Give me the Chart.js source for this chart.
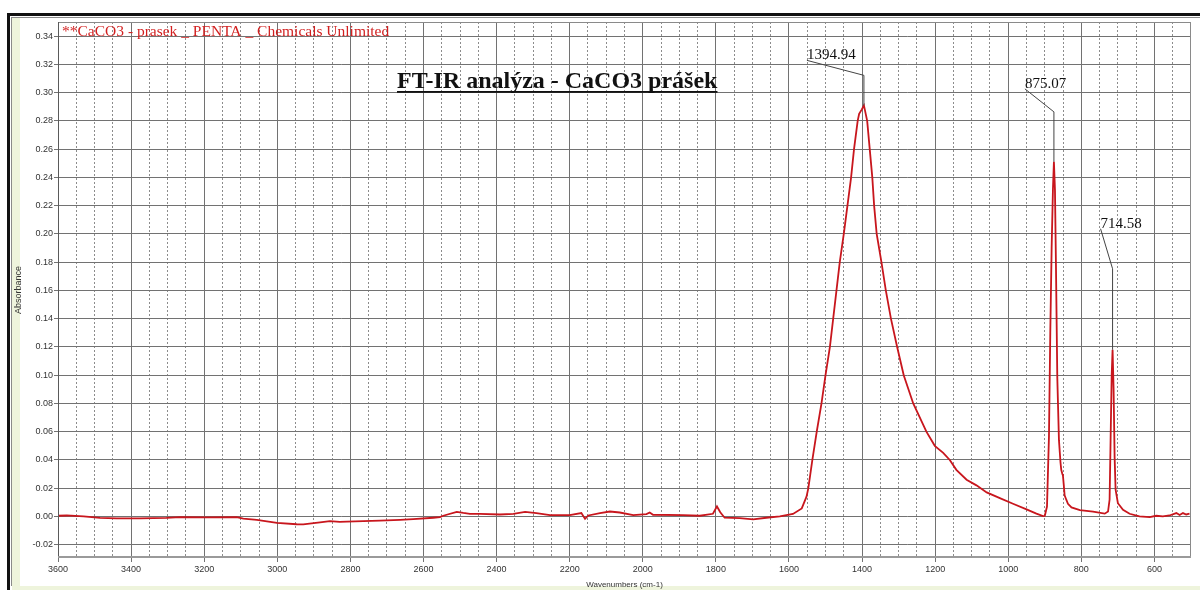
<!DOCTYPE html>
<html>
<head>
<meta charset="utf-8">
<title>FT-IR analýza - CaCO3 prášek</title>
<script src="https://cdn.jsdelivr.net/npm/chart.js@4.4.1/dist/chart.umd.min.js"></script>
<style>
  html, body { margin: 0; padding: 0; background: #fff; }
  #wrap { position: relative; width: 1200px; height: 590px; overflow: hidden; }
  #frame { position: absolute; left: 7px; top: 13px; width: 1210px; height: 600px;
           border-top: 3px solid #111; border-left: 3px solid #111; box-sizing: border-box; }
  #panel { position: absolute; left: 11px; top: 17px; width: 1200px; height: 569px;
           border-left: 1px solid #8a8a8a; border-top: 1px solid #8a8a8a; box-sizing: border-box;
           background: #fff; box-shadow: inset 8px 0 0 #eef4dc; }
  #panelBottom { position: absolute; left: 12px; top: 586px; width: 1200px; height: 6px; background: #eef4dc; }
  #chartBox { position: absolute; left: 0; top: 0; width: 1200px; height: 590px; }
</style>
</head>
<body>
<div id="wrap">
  <div id="frame"></div>
  <div id="panel"></div>
  <div id="panelBottom"></div>
  <div id="chartBox"><canvas id="spectrum"></canvas></div>
</div>
<script>
// Spectrum: wavenumber (cm-1) and absorbance pairs, high to low wavenumber
const wavenumbers = [
  3600, 3576, 3530, 3485, 3440, 3376, 3303, 3266, 3193, 3111,
  3093, 3056, 3001, 2947, 2929, 2883, 2856, 2829, 2810, 2719,
  2664, 2628, 2573, 2555, 2546, 2509, 2491, 2473, 2446, 2391,
  2354, 2322, 2291, 2254, 2200, 2168, 2158, 2149, 2117, 2090,
  2063, 2026, 1990, 1981, 1972, 1890, 1844, 1808, 1797, 1788,
  1776, 1735, 1698, 1662, 1625, 1589, 1565, 1552, 1547, 1536,
  1524, 1511, 1500, 1488, 1479, 1470, 1461, 1450, 1440, 1430,
  1422, 1412, 1408, 1401, 1394.94, 1386, 1379, 1372, 1367, 1360,
  1347, 1335, 1321, 1304, 1286, 1260, 1224, 1201, 1178, 1160,
  1142, 1114, 1087, 1059, 1023, 987, 950, 923, 905, 900,
  894, 888.6, 885, 881.3, 877.7, 875.07, 872.2, 869.5, 865.8, 861.3,
  857, 855, 852, 850.4, 848, 845.8, 840.7, 836.7, 827, 804,
  768, 736, 727, 722.7, 720, 717, 714.58, 711.8, 709, 706.3,
  700, 686, 668, 641, 613, 595, 577, 559, 540, 531,
  522, 513, 504
];
const absorbance = [
  0.0005, 0.0007, 0.0000, -0.0010, -0.0014, -0.0014, -0.0010, -0.0005, -0.0007, -0.0005,
  -0.0015, -0.0024, -0.0045, -0.0055, -0.0056, -0.0042, -0.0033, -0.0038, -0.0036, -0.0029,
  -0.0024, -0.0019, -0.0009, -0.0005, 0.0005, 0.0033, 0.0025, 0.0019, 0.0018, 0.0014,
  0.0019, 0.0033, 0.0024, 0.0009, 0.0009, 0.0024, -0.0017, 0.0007, 0.0024, 0.0035,
  0.0028, 0.0009, 0.0017, 0.0028, 0.0012, 0.0009, 0.0005, 0.0019, 0.0071, 0.0030,
  -0.0009, -0.0012, -0.0021, -0.0009, 0.0000, 0.0018, 0.0057, 0.0140, 0.020, 0.040,
  0.060, 0.080, 0.100, 0.120, 0.140, 0.160, 0.180, 0.200, 0.220, 0.240,
  0.260, 0.280, 0.285, 0.288, 0.291, 0.280, 0.260, 0.240, 0.220, 0.200,
  0.180, 0.160, 0.140, 0.120, 0.100, 0.080, 0.060, 0.050, 0.045, 0.040,
  0.033, 0.026, 0.022, 0.017, 0.013, 0.009, 0.005, 0.002, 0.0002, 0.0005,
  0.007, 0.057, 0.130, 0.190, 0.232, 0.251, 0.231, 0.178, 0.098, 0.054,
  0.038, 0.033, 0.030, 0.029, 0.022, 0.015, 0.0115, 0.009, 0.0064, 0.0045,
  0.0035, 0.0020, 0.0035, 0.012, 0.054, 0.100, 0.118, 0.090, 0.042, 0.019,
  0.0094, 0.0047, 0.0019, 0.0000, -0.0005, 0.0005, 0.0000, 0.0007, 0.0024, 0.0010,
  0.0024, 0.0014, 0.0020
];

// Labelled peaks
const peakWavenumbers = [1394.94, 875.07, 714.58];
const peakAbsorbance = [0.291, 0.251, 0.118];
const peakLabels = ['1394.94', '875.07', '714.58'];

// Axis ticks
const xMajorTicks = [3600, 3400, 3200, 3000, 2800, 2600, 2400, 2200, 2000, 1800, 1600, 1400, 1200, 1000, 800, 600];
const xMinorTicks = [
  3550, 3500, 3450, 3350, 3300, 3250, 3150, 3100, 3050, 2950, 2900, 2850,
  2750, 2700, 2650, 2550, 2500, 2450, 2350, 2300, 2250, 2150, 2100, 2050,
  1950, 1900, 1850, 1750, 1700, 1650, 1550, 1500, 1450, 1350, 1300, 1250,
  1150, 1100, 1050, 950, 900, 850, 750, 700, 650, 550
];
const yTicks = [-0.02, 0.00, 0.02, 0.04, 0.06, 0.08, 0.10, 0.12, 0.14, 0.16, 0.18,
                0.20, 0.22, 0.24, 0.26, 0.28, 0.30, 0.32, 0.34];

const seriesName = '**CaCO3 - prasek _ PENTA _ Chemicals Unlimited';
const chartTitle = 'FT-IR analýza - CaCO3 prášek';
const xTitle = 'Wavenumbers (cm-1)';
const yTitle = 'Absorbance';

const X_MIN = 500, X_MAX = 3600, Y_MIN = -0.0294, Y_MAX = 0.350;

// Leader-line geometry for each peak label (pixels relative to the peak point)
const peakLabelLayout = [
  { elbowDy: -30, textDx: -57, textDy: -45 },
  { elbowDy: -50, textDx: -29, textDy: -73 },
  { elbowDy: -81, textDx: -12, textDy: -121 }
];

const tickFont = { family: '"Liberation Sans", Arial, sans-serif', size: 9 };

const plotDecor = {
  id: 'plotDecor',
  beforeDraw(chart) {
    const { ctx, chartArea: a } = chart;
    ctx.save();
    ctx.fillStyle = '#ffffff';
    ctx.fillRect(a.left, a.top, a.right - a.left, a.bottom - a.top);
    ctx.restore();
  },
  afterDatasetsDraw(chart) {
    const { ctx, chartArea: a, scales } = chart;
    ctx.save();
    // plot frame
    ctx.strokeStyle = '#8a8a8a';
    ctx.lineWidth = 1;
    ctx.strokeRect(a.left + 0.5, a.top + 0.5, a.right - a.left - 1, a.bottom - a.top - 1);
    ctx.strokeStyle = '#5a5a5a';
    ctx.beginPath();
    ctx.moveTo(a.left + 0.5, a.top);
    ctx.lineTo(a.left + 0.5, a.bottom);
    ctx.stroke();
    ctx.lineWidth = 2;
    ctx.strokeStyle = '#9a9a9a';
    ctx.beginPath();
    ctx.moveTo(a.left, a.bottom - 1);
    ctx.lineTo(a.right, a.bottom - 1);
    ctx.stroke();

    // series name
    ctx.fillStyle = '#d21f1f';
    ctx.font = '15.5px "Liberation Serif", "Times New Roman", serif';
    ctx.textBaseline = 'alphabetic';
    ctx.textAlign = 'left';
    ctx.fillText(seriesName, a.left + 4, a.top + 14);

    // chart title, bold and underlined
    ctx.fillStyle = '#111111';
    ctx.font = 'bold 24px "Liberation Serif", "Times New Roman", serif';
    const tx = a.left + 339, ty = a.top + 66;
    ctx.fillText(chartTitle, tx, ty);
    const tw = ctx.measureText(chartTitle).width;
    ctx.fillRect(tx, ty + 3, tw, 1.8);

    // peak labels with leader lines
    ctx.font = '15px "Liberation Serif", "Times New Roman", serif';
    ctx.strokeStyle = '#444444';
    ctx.lineWidth = 1;
    peakWavenumbers.forEach((w, i) => {
      const px = scales.x.getPixelForValue(w);
      const py = scales.y.getPixelForValue(peakAbsorbance[i]);
      const l = peakLabelLayout[i];
      ctx.beginPath();
      ctx.moveTo(px, py);
      ctx.lineTo(px, py + l.elbowDy);
      ctx.lineTo(px + l.textDx, py + l.textDy);
      ctx.stroke();
      ctx.fillStyle = '#111111';
      ctx.fillText(peakLabels[i], px + l.textDx, py + l.textDy - 1);
    });
    ctx.restore();
  }
};

new Chart(document.getElementById('spectrum'), {
  type: 'line',
  data: {
    datasets: [{
      label: seriesName,
      data: wavenumbers.map((w, i) => ({ x: w, y: absorbance[i] })),
      borderColor: '#c8161d',
      borderWidth: 1.8,
      pointRadius: 0,
      tension: 0,
      fill: false
    }]
  },
  options: {
    responsive: true,
    maintainAspectRatio: false,
    animation: false,
    layout: { padding: { left: 12, top: 22, right: 9, bottom: 0 } },
    plugins: { legend: { display: false }, tooltip: { enabled: false }, title: { display: false } },
    scales: {
      x: {
        type: 'linear', position: 'bottom', reverse: true, min: X_MIN, max: X_MAX,
        afterBuildTicks: s => { s.ticks = xMajorTicks.map(v => ({ value: v })); },
        afterFit: s => { s.height = 32; },
        ticks: { autoSkip: false, maxRotation: 0, padding: 2, color: '#333', font: tickFont,
                 callback: v => String(v) },
        grid: { color: '#727272', lineWidth: 1, drawTicks: true, tickLength: 4 },
        border: { display: false },
        title: { display: true, text: xTitle, color: '#333',
                 font: { family: '"Liberation Sans", Arial, sans-serif', size: 8 },
                 padding: { top: 2, bottom: 0 } }
      },
      xMinor: {
        type: 'linear', position: 'top', reverse: true, min: X_MIN, max: X_MAX,
        afterBuildTicks: s => { s.ticks = xMinorTicks.map(v => ({ value: v })); },
        afterFit: s => { s.height = 0; },
        ticks: { display: false },
        grid: { color: '#8c8c8c', lineWidth: 1, drawTicks: false },
        border: { display: false, dash: [2, 2] }
      },
      y: {
        type: 'linear', position: 'left', min: Y_MIN, max: Y_MAX,
        afterBuildTicks: s => { s.ticks = yTicks.map(v => ({ value: v })); },
        afterFit: s => { s.width = 46; },
        ticks: { padding: 1, color: '#333', font: tickFont, callback: v => v.toFixed(2) },
        grid: { color: '#727272', lineWidth: 1, drawTicks: true, tickLength: 4 },
        border: { display: false },
        title: { display: true, text: yTitle, color: '#333',
                 font: { family: '"Liberation Sans", Arial, sans-serif', size: 9 },
                 padding: { top: 1.5, bottom: 0 } }
      }
    }
  },
  plugins: [plotDecor]
});
</script>
</body>
</html>
